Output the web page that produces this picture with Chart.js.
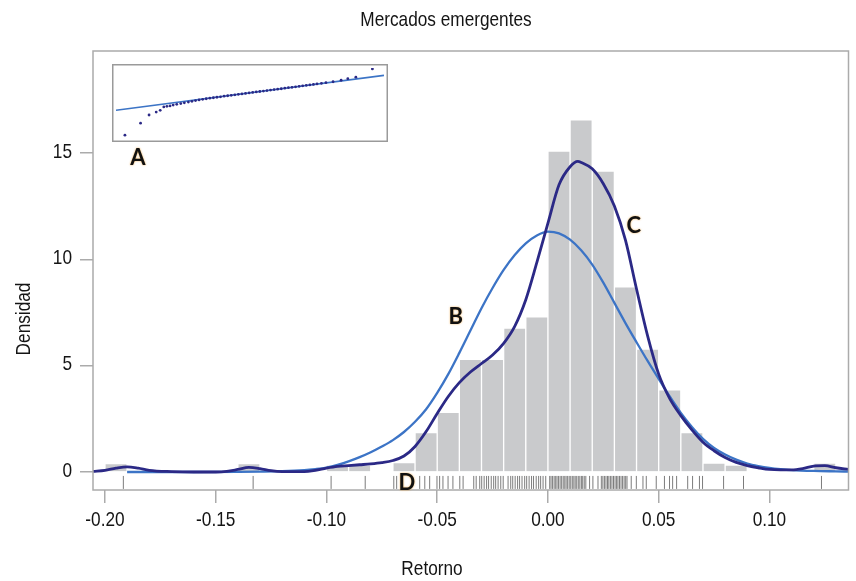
<!DOCTYPE html>
<html>
<head>
<meta charset="utf-8">
<title>Mercados emergentes</title>
<script src="https://cdn.jsdelivr.net/npm/chart.js@4.4.1/dist/chart.umd.min.js"></script>
<style>
  body { margin: 0; background: #fff; }
  #wrap { position: relative; width: 856px; height: 581px; }
  #main { position: absolute; left: 0; top: 0; }
  #inset { position: absolute; left: 112px; top: 64px; }
</style>
</head>
<body>
<div id="wrap">
  <canvas id="main" width="856" height="581"></canvas>
  <canvas id="inset" width="276" height="78"></canvas>
</div>
<script>
// Histogram bins (width 0.01), density heights
const binMid = [-0.195, -0.185, -0.175, -0.165, -0.155, -0.145, -0.135, -0.125, -0.115, -0.105,
                -0.095, -0.085, -0.075, -0.065, -0.055, -0.045, -0.035, -0.025, -0.015, -0.005,
                 0.005,  0.015,  0.025,  0.035,  0.045,  0.055,  0.065,  0.075,  0.085,  0.095,
                 0.105,  0.115,  0.125];
const binHeight = [0.4, 0, 0, 0, 0, 0, 0.4, 0, 0, 0,
                   0.32, 0.32, 0, 0.44, 1.85, 2.8, 5.3, 5.3, 6.77, 7.29,
                   15.09, 16.55, 14.15, 8.7, 5.78, 3.86, 1.85, 0.42, 0.33, 0,
                   0, 0, 0.42];

// Curve B (normal fit)
const bX = [-0.19, -0.18, -0.16, -0.14, -0.13, -0.12, -0.11, -0.105, -0.10, -0.095, -0.09, -0.085,
            -0.08, -0.075, -0.07, -0.065, -0.06, -0.055, -0.05, -0.045, -0.04, -0.035, -0.03, -0.025,
            -0.02, -0.015, -0.01, -0.005, 0, 0.005, 0.01, 0.015, 0.02, 0.025, 0.03, 0.035, 0.04,
            0.045, 0.05, 0.055, 0.06, 0.065, 0.07, 0.075, 0.08, 0.085, 0.09, 0.095, 0.10, 0.105,
            0.11, 0.12, 0.13, 0.1357];
const bY = [0, 0, 0, 0.01, 0.02, 0.04, 0.09, 0.14, 0.21, 0.33, 0.5, 0.7,
            0.93, 1.2, 1.5, 1.88, 2.36, 2.95, 3.72, 4.6, 5.6, 6.65, 7.7, 8.65,
            9.5, 10.2, 10.75, 11.12, 11.3, 11.22, 10.92, 10.42, 9.75, 8.9, 7.95, 7.0, 6.1,
            5.22, 4.38, 3.55, 2.78, 2.12, 1.56, 1.13, 0.82, 0.58, 0.4, 0.28, 0.19, 0.13,
            0.09, 0.05, 0.03, 0.02];

// Curve C (kernel density)
const cX = [-0.2054, -0.20, -0.195, -0.19, -0.185, -0.18, -0.17, -0.16, -0.15, -0.145, -0.14, -0.135,
            -0.13, -0.125, -0.12, -0.11, -0.105, -0.10, -0.095, -0.09, -0.085, -0.08, -0.075, -0.07,
            -0.065, -0.06, -0.055, -0.05, -0.045, -0.04, -0.035, -0.03, -0.025, -0.02, -0.015, -0.01,
            -0.005, 0, 0.005, 0.01, 0.0135, 0.015, 0.02, 0.025, 0.03, 0.035, 0.04, 0.045, 0.05,
            0.055, 0.06, 0.065, 0.07, 0.075, 0.08, 0.085, 0.09, 0.095, 0.10, 0.105, 0.11, 0.115,
            0.12, 0.125, 0.13, 0.1357];
const cY = [0.03, 0.08, 0.18, 0.24, 0.18, 0.08, 0.02, 0, 0, 0.03, 0.12, 0.22,
            0.16, 0.06, 0.02, 0.02, 0.08, 0.18, 0.26, 0.3, 0.34, 0.38, 0.44, 0.54,
            0.75, 1.2, 1.9, 2.75, 3.55, 4.2, 4.7, 5.1, 5.5, 6.05, 6.85, 8.1,
            9.85, 11.7, 13.5, 14.35, 14.6, 14.55, 14.25, 13.55, 12.5, 10.9, 8.6, 6.4, 4.6,
            3.45, 2.65, 1.98, 1.4, 1.0, 0.68, 0.45, 0.3, 0.2, 0.12, 0.1, 0.1, 0.16,
            0.28, 0.3, 0.2, 0.12];

// Rug of observations (D)
const rugX = [-0.1917, -0.1331, -0.0979, -0.0825, -0.0696, -0.0683, -0.0579, -0.0556, -0.0534,
              -0.0501, -0.0489, -0.0474, -0.0451, -0.0429, -0.0398, -0.0383, -0.0335, -0.0324,
              -0.0308, -0.0299, -0.0288, -0.0277, -0.0268, -0.0256, -0.0245, -0.0236, -0.0225,
              -0.0213, -0.0202, -0.018, -0.0168, -0.0159, -0.0148, -0.0137, -0.0128, -0.0117,
              -0.0105, -0.0096, -0.0085, -0.0074, -0.0065, -0.0053, -0.0042, -0.0033, -0.0022,
              -0.001, 0.0008, 0.0014, 0.0021, 0.0028, 0.0035, 0.0041, 0.0048, 0.0055,
              0.0062, 0.0069, 0.0076, 0.0082, 0.0089, 0.0096, 0.0103, 0.011, 0.0117, 0.0123,
              0.013, 0.0137, 0.0144, 0.0151, 0.0157, 0.0164, 0.0171, 0.0188, 0.0203, 0.0226,
              0.0241, 0.0248, 0.0255, 0.0262, 0.0269, 0.0275, 0.0282, 0.0289, 0.0296, 0.0303,
              0.031, 0.0316, 0.0323, 0.033, 0.0337, 0.0344, 0.0351, 0.0357, 0.0376, 0.0399,
              0.0429, 0.0444, 0.0489, 0.0526, 0.0549, 0.0563, 0.0581, 0.0631, 0.0653, 0.0684,
              0.0698, 0.0793, 0.0883, 0.1235];
const rugY = -0.49;

// Inset A: normal QQ plot
const qqX = [-2.80, -2.45, -2.26, -2.10, -2.01, -1.93, -1.86, -1.79, -1.72, -1.64, -1.55, -1.47,
             -1.38, -1.30, -1.22, -1.14, -1.06, -0.98, -0.90, -0.82, -0.74, -0.66, -0.58, -0.50,
             -0.42, -0.34, -0.26, -0.18, -0.10, -0.02, 0.06, 0.14, 0.22, 0.30, 0.38, 0.46, 0.54,
             0.62, 0.70, 0.78, 0.86, 0.94, 1.02, 1.10, 1.18, 1.26, 1.34, 1.42, 1.50, 1.60, 1.70,
             1.86, 2.04, 2.19, 2.37, 2.74];
const qqY = [-7.27, -5.2, -3.8, -3.3, -3.0, -2.42, -2.32, -2.25, -2.1, -1.98, -1.85, -1.72,
             -1.58, -1.45, -1.33, -1.22, -1.12, -1.02, -0.92, -0.84, -0.76, -0.68, -0.58, -0.5,
             -0.43, -0.35, -0.26, -0.18, -0.1, -0.02, 0.07, 0.15, 0.23, 0.3, 0.38, 0.47, 0.55,
             0.62, 0.7, 0.8, 0.88, 0.95, 1.03, 1.12, 1.2, 1.28, 1.36, 1.45, 1.52, 1.63, 1.74,
             1.9, 2.16, 2.42, 2.69, 4.1];
const qqLine = [-3, 3];

// Axis ticks
const xTicks = [-0.20, -0.15, -0.10, -0.05, 0.00, 0.05, 0.10];
const yTicks = [0, 5, 10, 15];

// Letter labels
const labelText = ['A', 'B', 'C', 'D'];
const labelX = [-0.1851, -0.0416, 0.0387, -0.0637];
const labelY = [14.76, 7.29, 11.57, -0.52];

const TEXT_FONT = "21px 'Liberation Sans', Arial, sans-serif";
const frameColor = '#ababab';
const lightBlue = '#3c74c6';
const navy = '#2b2986';

// narrow text: Liberation Sans squeezed to a condensed width
function narrowText(ctx, text, x, y, align, rotate) {
    ctx.save();
    ctx.translate(x, y);
    if (rotate) ctx.rotate(rotate);
    ctx.scale(0.82, 1);
    ctx.textAlign = align;
    ctx.fillText(text, 0, 0);
    ctx.restore();
}

const framePlugin = {
    id: 'frame',
    afterDraw(chart) {
        const { ctx, chartArea: a } = chart;
        ctx.save();
        ctx.strokeStyle = frameColor;
        ctx.lineWidth = 1.5;
        ctx.strokeRect(a.left, a.top, a.right - a.left, a.bottom - a.top);
        ctx.restore();
    }
};

const textPlugin = {
    id: 'texts',
    afterDraw(chart) {
        const ctx = chart.ctx;
        const xs = chart.scales.x, ys = chart.scales.y;
        ctx.save();
        ctx.fillStyle = '#141414';
        ctx.font = TEXT_FONT;
        ctx.textBaseline = 'middle';

        // tick labels
        xs.ticks.forEach(t => {
            narrowText(ctx, t.value.toFixed(2), xs.getPixelForValue(t.value), 520, 'center');
        });
        ys.ticks.forEach(t => {
            narrowText(ctx, String(t.value), 72, ys.getPixelForValue(t.value) - 1, 'right');
        });

        // titles
        narrowText(ctx, 'Mercados emergentes', 446, 20, 'center');
        narrowText(ctx, 'Retorno', 432, 569, 'center');
        narrowText(ctx, 'Densidad', 24, 319, 'center', -Math.PI / 2);

        // letter callouts
        ctx.font = 'bold 22px Lato, "Open Sans", sans-serif';
        ctx.textAlign = 'center';
        ctx.fillStyle = '#111';
        ctx.shadowColor = 'rgba(235, 150, 30, 0.8)';
        ctx.shadowBlur = 2;
        labelText.forEach((t, i) => {
            ctx.fillText(t, xs.getPixelForValue(labelX[i]), ys.getPixelForValue(labelY[i]));
        });
        ctx.restore();
    }
};

new Chart(document.getElementById('main'), {
    type: 'bar',
    data: {
        datasets: [
            {
                type: 'line',
                label: 'C',
                data: cX.map((x, i) => ({ x, y: cY[i] })),
                borderColor: navy,
                borderWidth: 2.8,
                pointRadius: 0,
                cubicInterpolationMode: 'monotone',
                order: 1
            },
            {
                type: 'line',
                label: 'B',
                data: bX.map((x, i) => ({ x, y: bY[i] })),
                borderColor: lightBlue,
                borderWidth: 2.3,
                pointRadius: 0,
                cubicInterpolationMode: 'monotone',
                order: 2
            },
            {
                type: 'scatter',
                label: 'D',
                data: rugX.map(x => ({ x, y: rugY })),
                pointStyle: 'line',
                pointRotation: 90,
                pointRadius: 6.5,
                pointBorderColor: '#7c7c7c',
                pointBorderWidth: 1,
                order: 3
            },
            {
                type: 'bar',
                label: 'Histograma',
                data: binMid.map((x, i) => ({ x, y: binHeight[i] })),
                backgroundColor: '#c9cacc',
                borderColor: '#ffffff',
                borderWidth: 1,
                barPercentage: 1,
                categoryPercentage: 1,
                order: 4
            }
        ]
    },
    options: {
        responsive: false,
        animation: false,
        events: [],
        layout: { padding: { top: 51, right: 7, left: 0, bottom: 0 } },
        plugins: {
            legend: { display: false },
            tooltip: { enabled: false }
        },
        scales: {
            x: {
                type: 'linear',
                min: -0.2054,
                max: 0.1357,
                offset: false,
                afterFit(s) { s.height = 91; },
                afterBuildTicks(s) { s.ticks = xTicks.map(v => ({ value: v })); },
                grid: { drawOnChartArea: false, tickLength: 13, color: frameColor, lineWidth: 1.5, offset: false },
                border: { display: false },
                ticks: { display: false }
            },
            y: {
                type: 'linear',
                min: -0.846,
                max: 19.79,
                afterFit(s) { s.width = 93; },
                afterBuildTicks(s) { s.ticks = yTicks.map(v => ({ value: v })); },
                grid: { drawOnChartArea: false, tickLength: 13, color: frameColor, lineWidth: 1.5 },
                border: { display: false },
                ticks: { display: false }
            }
        }
    },
    plugins: [framePlugin, textPlugin]
});

// Inset frame
const insetFrame = {
    id: 'insetFrame',
    afterDraw(chart) {
        const ctx = chart.ctx;
        ctx.save();
        ctx.strokeStyle = '#9a9a9a';
        ctx.lineWidth = 1.5;
        ctx.strokeRect(0.75, 0.75, chart.width - 1.5, chart.height - 1.5);
        ctx.restore();
    }
};

new Chart(document.getElementById('inset'), {
    type: 'scatter',
    data: {
        datasets: [
            {
                type: 'scatter',
                data: qqX.map((x, i) => ({ x, y: qqY[i] })),
                pointRadius: 1.4,
                pointBackgroundColor: navy,
                pointBorderWidth: 0,
                order: 1
            },
            {
                type: 'line',
                data: qqLine.map(v => ({ x: v, y: v })),
                borderColor: lightBlue,
                borderWidth: 1.6,
                pointRadius: 0,
                order: 2
            }
        ]
    },
    options: {
        responsive: false,
        animation: false,
        events: [],
        layout: { padding: 1 },
        plugins: { legend: { display: false }, tooltip: { enabled: false } },
        scales: {
            x: { type: 'linear', display: false, min: -3, max: 3 },
            y: { type: 'linear', display: false, min: -7.75, max: 4.26 }
        }
    },
    plugins: [insetFrame]
});
</script>
</body>
</html>
